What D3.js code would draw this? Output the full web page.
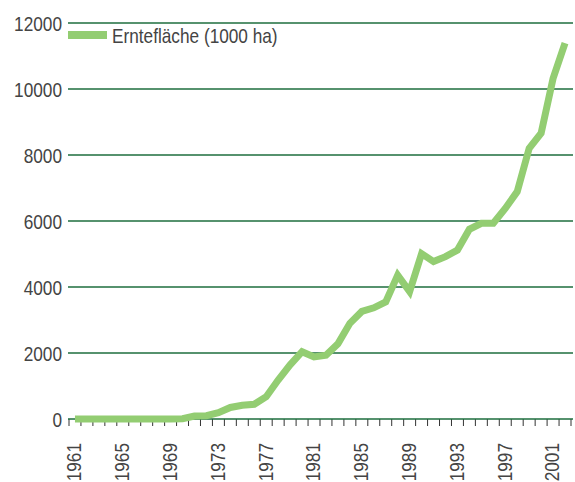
<!DOCTYPE html>
<html>
<head>
<meta charset="utf-8">
<script src="https://cdn.jsdelivr.net/npm/d3@7/dist/d3.min.js"></script>
<style>
  html, body { margin: 0; padding: 0; background: #fff; }
  svg { display: block; }
  text { font-family: "Liberation Sans", Arial, sans-serif; fill: #444; }
</style>
</head>
<body>
<svg id="chart" width="575" height="482"></svg>
<script>
const years = d3.range(1961, 2003);
const values = [
  0, 0, 0, 0, 0, 0, 0, 0, 0, 10,
  90, 100, 190, 350, 415, 445, 675, 1180, 1640, 2040,
  1880, 1930, 2280, 2900, 3260, 3370, 3550, 4360, 3860, 5010,
  4770, 4920, 5120, 5750, 5930, 5930, 6380, 6890, 8200, 8660,
  10320, 11390
];
const yTicks = [0, 2000, 4000, 6000, 8000, 10000, 12000];
const xLabelYears = d3.range(1961, 2002, 4);
const seriesName = "Erntefläche (1000 ha)";

(function () {
const svg = d3.select("#chart");
const mLeft = 69, mRight = 571, mTop = 23, mBottom = 419;
const narrow = 0.82;

function condense(sel) {
  sel.each(function () {
    const w = this.getComputedTextLength();
    d3.select(this).attr("textLength", w * narrow).attr("lengthAdjust", "spacingAndGlyphs");
  });
}

const x = d3.scaleBand().domain(years).range([mLeft, mRight]).padding(0);
const y = d3.scaleLinear().domain([0, 12000]).range([mBottom, mTop]);

const gridColor = "#1e6e3e";
const lineColor = "#93cd72";

// gridlines
svg.append("g").selectAll("line").data(yTicks.filter(d => d > 0)).join("line")
  .attr("x1", mLeft - 1).attr("x2", mRight + 2)
  .attr("y1", d => y(d)).attr("y2", d => y(d))
  .attr("stroke", gridColor).attr("stroke-width", 1.3);

// y labels
svg.append("g").selectAll("text").data(yTicks).join("text")
  .attr("x", 62).attr("y", d => y(d)).attr("dy", "0.36em")
  .attr("text-anchor", "end").style("font-size", "21px")
  .text(d => d)
  .call(condense);

// x ticks at band edges
const tickPos = years.map(d => x(d)).concat([x(years[years.length - 1]) + x.bandwidth()]);
svg.append("g").selectAll("line").data(tickPos).join("line")
  .attr("x1", d => d).attr("x2", d => d)
  .attr("y1", mBottom).attr("y2", mBottom + 7)
  .attr("stroke", "#333").attr("stroke-width", 1);

// axis line
svg.append("line")
  .attr("x1", mLeft - 1).attr("x2", mRight + 2)
  .attr("y1", mBottom).attr("y2", mBottom)
  .attr("stroke", gridColor).attr("stroke-width", 1.3);

// x labels
svg.append("g").selectAll("text").data(xLabelYears).join("text")
  .attr("transform", d => `translate(${x(d) + x.bandwidth() / 2 - 1},${mBottom + 24}) rotate(-90)`)
  .attr("dy", "0.35em")
  .attr("text-anchor", "end").style("font-size", "21px")
  .text(d => d)
  .call(condense);

// series line
const line = d3.line()
  .x((d, i) => x(years[i]) + x.bandwidth() / 2)
  .y(d => y(d));
svg.append("path").datum(values)
  .attr("d", line)
  .attr("fill", "none").attr("stroke", lineColor)
  .attr("stroke-width", 7).attr("stroke-linejoin", "miter");

// legend
svg.append("rect").attr("x", 68).attr("y", 31).attr("width", 39).attr("height", 8).attr("fill", lineColor);
svg.append("text").attr("x", 112).attr("y", 42.5).style("font-size", "21px").text(seriesName)
  .call(condense);
})();
</script>
</body>
</html>
